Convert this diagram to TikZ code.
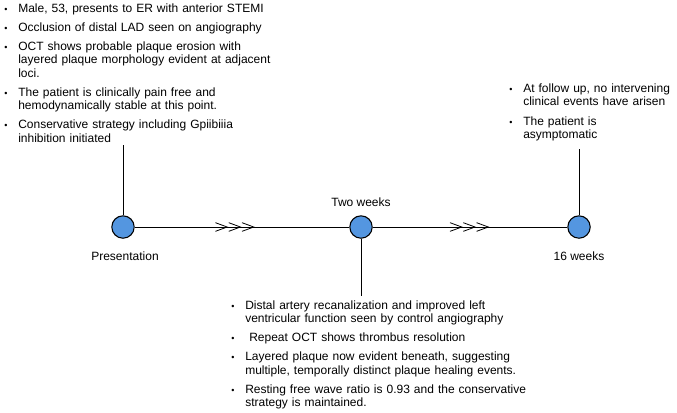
\documentclass[tikz,border=0pt]{standalone}
\usepackage{fontspec}
\setmainfont{Liberation Sans}
\usepackage{enumitem}
\usetikzlibrary{positioning,arrows.meta,decorations.markings}
\definecolor{dotblue}{RGB}{84,150,224}
\newcommand{\notefont}{\fontsize{9pt}{10pt}\selectfont}
\setlist[itemize]{leftmargin=13.5pt,labelsep=8pt,topsep=0pt,partopsep=0pt,parsep=0pt,itemsep=4.4pt,label={\scalebox{0.75}{\textbullet}}}

\begin{document}
\begin{tikzpicture}
  [x=0.75pt,y=-0.75pt,
   every node/.style={inner sep=0pt},
   dot/.style={circle,draw,line width=0.8pt,fill=dotblue,minimum size=16.8pt},
   note/.style={anchor=north west,text width=#1,font=\notefont},
   stamp/.style={font=\notefont},
   chevs/.style={postaction={decorate},decoration={markings,
     mark=at position #1 with {\arrow{Straight Barb[length=8.8pt,width=6.5pt,line width=0.6pt] Straight Barb[length=8.8pt,width=6.5pt,line width=0.6pt] Straight Barb[length=8.8pt,width=6.5pt,line width=0.6pt]}}}}]
  \useasboundingbox (0,0) rectangle (677,412);

  \node[dot] (pres) at (123,227) {};
  \node[dot] (twowk) at (361,227) {};
  \node[dot] (sixteen) at (579,227) {};

  \node[stamp] (presl) at (125,256) {Presentation};
  \node[stamp] (twowkl) at (361,202) {Two weeks};
  \node[stamp] (sixteenl) at (579,256) {16 weeks};

  \coordinate (topA) at (123,145);
  \coordinate (topC) at (579,149);
  \coordinate (botB) at (361,296);

  \node[note=260pt] (notesA) at (0,-1.5) {%
    \begin{itemize}
      \item Male, 53, presents to ER with anterior STEMI
      \item Occlusion of distal LAD seen on angiography
      \item OCT shows probable plaque erosion with\newline layered plaque morphology evident at adjacent\newline loci.
      \item The patient is clinically pain free and\newline hemodynamically stable at this point.
      \item Conservative strategy including Gpiibiiia\newline inhibition initiated
    \end{itemize}};

  \node[note=260pt] (notesB) at (227,295.5) {%
    \begin{itemize}
      \item Distal artery recanalization and improved left\newline ventricular function seen by control angiography
      \item \ Repeat OCT shows thrombus resolution
      \item Layered plaque now evident beneath, suggesting\newline multiple, temporally distinct plaque healing events.
      \item Resting free wave ratio is 0.93 and the conservative\newline strategy is maintained.
    \end{itemize}};

  \node[note=125pt] (notesC) at (505,79) {%
    \begin{itemize}
      \item At follow up, no intervening\newline clinical events have arisen
      \item The patient is\newline asymptomatic
    \end{itemize}};

  \draw[chevs=0.56] (pres) -- (twowk);
  \draw[chevs=0.6] (twowk) -- (sixteen);
  \draw (pres) -- (topA);
  \draw (sixteen) -- (topC);
  \draw (twowk) -- (botB);
\end{tikzpicture}
\end{document}
